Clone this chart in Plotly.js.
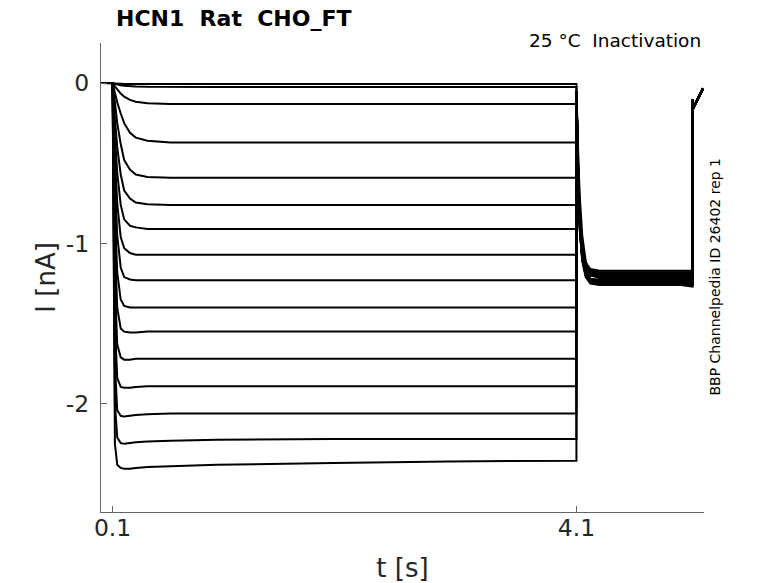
<!DOCTYPE html>
<html>
<head>
<meta charset="utf-8">
<script src="https://cdn.plot.ly/plotly-3.0.1.min.js"></script>
<style>html,body{margin:0;padding:0;background:#fff;}#chart{width:778px;height:583px;}</style>
</head>
<body>
<div id="chart"></div>
<script>
// Time points (s) of the conditioning step
var stepTimes = [0, 0.1, 0.12, 0.14, 0.17, 0.2, 0.25, 0.3, 0.4, 0.6, 1.0, 2.0, 3.0, 4.1];
// Currents (nA) during the step, one row per sweep
var stepCurrents = [
  [0, 0, -0.002, -0.003, -0.004, -0.005, -0.005, -0.006, -0.006, -0.006, -0.006, -0.006, -0.006, -0.006],
  [0, 0, -0.005, -0.009, -0.013, -0.016, -0.019, -0.021, -0.023, -0.025, -0.025, -0.025, -0.025, -0.025],
  [0, 0, -0.02, -0.04, -0.065, -0.085, -0.105, -0.116, -0.125, -0.13, -0.13, -0.13, -0.13, -0.13],
  [0, 0, -0.06, -0.12, -0.19, -0.25, -0.31, -0.34, -0.36, -0.37, -0.37, -0.37, -0.37, -0.37],
  [0, 0, -0.12, -0.25, -0.38, -0.48, -0.54, -0.57, -0.585, -0.59, -0.59, -0.59, -0.59, -0.59],
  [0, 0, -0.22, -0.40, -0.57, -0.67, -0.72, -0.745, -0.755, -0.76, -0.76, -0.76, -0.76, -0.76],
  [0, 0, -0.33, -0.56, -0.76, -0.85, -0.89, -0.90, -0.91, -0.91, -0.91, -0.91, -0.91, -0.91],
  [0, 0, -0.45, -0.75, -0.96, -1.03, -1.06, -1.07, -1.07, -1.07, -1.07, -1.07, -1.07, -1.07],
  [0, 0, -0.60, -0.95, -1.15, -1.21, -1.225, -1.23, -1.23, -1.23, -1.23, -1.23, -1.23, -1.23],
  [0, 0, -0.80, -1.18, -1.35, -1.39, -1.40, -1.40, -1.40, -1.40, -1.40, -1.40, -1.40, -1.40],
  [0, 0, -1.00, -1.40, -1.53, -1.55, -1.555, -1.555, -1.55, -1.55, -1.55, -1.55, -1.55, -1.55],
  [0, 0, -1.25, -1.63, -1.71, -1.725, -1.725, -1.72, -1.72, -1.72, -1.72, -1.72, -1.72, -1.72],
  [0, 0, -1.50, -1.84, -1.895, -1.90, -1.90, -1.895, -1.89, -1.89, -1.89, -1.89, -1.89, -1.89],
  [0, 0, -1.75, -2.04, -2.075, -2.08, -2.075, -2.07, -2.065, -2.06, -2.06, -2.06, -2.06, -2.06],
  [0, 0, -2.00, -2.21, -2.245, -2.25, -2.245, -2.24, -2.235, -2.23, -2.225, -2.22, -2.22, -2.22],
  [0, 0, -2.25, -2.38, -2.40, -2.405, -2.405, -2.40, -2.395, -2.39, -2.38, -2.37, -2.36, -2.355]
];
// Tail (test pulse) time points (s) and currents (nA)
var tailTimes = [4.1, 4.11, 4.12, 4.13, 4.15, 4.18, 4.22, 4.3, 4.6, 5.0, 5.102];
var tailCurrents = [
  [-0.05, -0.50, -0.73, -0.89, -1.06, -1.15, -1.19, -1.20, -1.20, -1.20, -1.20],
  [-0.05, -0.48, -0.72, -0.88, -1.06, -1.16, -1.20, -1.21, -1.22, -1.22, -1.22],
  [-0.05, -0.52, -0.76, -0.92, -1.10, -1.20, -1.24, -1.25, -1.25, -1.25, -1.26],
  [-0.05, -0.46, -0.69, -0.85, -1.03, -1.13, -1.17, -1.18, -1.18, -1.18, -1.18],
  [-0.05, -0.50, -0.74, -0.90, -1.08, -1.18, -1.22, -1.23, -1.23, -1.23, -1.23],
  [-0.05, -0.40, -0.62, -0.80, -1.00, -1.13, -1.19, -1.21, -1.21, -1.21, -1.21],
  [-0.05, -0.53, -0.77, -0.93, -1.11, -1.21, -1.25, -1.26, -1.26, -1.26, -1.27],
  [-0.05, -0.48, -0.71, -0.87, -1.04, -1.14, -1.18, -1.19, -1.19, -1.19, -1.19],
  [-0.05, -0.50, -0.75, -0.91, -1.09, -1.19, -1.23, -1.24, -1.24, -1.24, -1.25],
  [-0.05, -0.35, -0.55, -0.72, -0.95, -1.11, -1.19, -1.22, -1.22, -1.22, -1.22],
  [-0.05, -0.47, -0.69, -0.84, -1.02, -1.12, -1.16, -1.17, -1.17, -1.17, -1.17],
  [-0.05, -0.51, -0.76, -0.92, -1.10, -1.20, -1.24, -1.25, -1.25, -1.25, -1.26],
  [-0.05, -0.49, -0.72, -0.88, -1.05, -1.15, -1.20, -1.21, -1.21, -1.21, -1.21],
  [-0.05, -0.50, -0.74, -0.90, -1.08, -1.18, -1.22, -1.23, -1.23, -1.23, -1.24],
  [-0.05, -0.48, -0.71, -0.87, -1.04, -1.14, -1.18, -1.19, -1.19, -1.19, -1.19],
  [-0.05, -0.51, -0.75, -0.91, -1.09, -1.19, -1.23, -1.24, -1.24, -1.24, -1.25]
];
// Return to holding potential (s, nA)
var endTimes = [5.103, 5.107, 5.19];
var endCurrents = [
  [-0.10, -0.155, -0.035],
  [-0.11, -0.150, -0.040],
  [-0.10, -0.160, -0.030],
  [-0.11, -0.155, -0.038],
  [-0.10, -0.150, -0.035],
  [-0.12, -0.158, -0.042],
  [-0.10, -0.152, -0.033],
  [-0.11, -0.156, -0.037],
  [-0.10, -0.150, -0.035],
  [-0.11, -0.160, -0.040],
  [-0.10, -0.154, -0.036],
  [-0.12, -0.150, -0.032],
  [-0.10, -0.158, -0.039],
  [-0.11, -0.152, -0.034],
  [-0.10, -0.156, -0.037],
  [-0.11, -0.150, -0.036]
];
var xTickVals = [0.1, 4.1];
var xTickText = ['0.1', '4.1'];
var yTickVals = [0, -1, -2];
var yTickText = ['0', '-1', '-2'];

var traces = [];
for (var i = 0; i < stepCurrents.length; i++) {
  traces.push({
    type: 'scatter', mode: 'lines',
    x: stepTimes.concat(tailTimes, endTimes),
    y: stepCurrents[i].concat(tailCurrents[i], endCurrents[i]),
    line: {color: '#000000', width: 2},
    hoverinfo: 'skip', showlegend: false
  });
}

var FONT = 'DejaVu Sans, sans-serif';
var axisCommon = {
  showgrid: false, zeroline: false, showline: true, mirror: false,
  linecolor: '#666666', linewidth: 1, ticks: 'inside', ticklen: 6, tickwidth: 1,
  tickcolor: '#666666', tickfont: {family: FONT, size: 23.5, color: '#262626'}
};
var layout = {
  width: 778, height: 583,
  margin: {l: 101, r: 74, t: 43, b: 71, pad: 0},
  paper_bgcolor: '#ffffff', plot_bgcolor: '#ffffff',
  font: {family: FONT, color: '#262626'},
  showlegend: false,
  xaxis: Object.assign({}, axisCommon, {
    range: [0, 5.2], tickmode: 'array', tickvals: xTickVals, ticktext: xTickText,
    ticklabelstandoff: -5,
    title: {text: 't [s]', font: {family: FONT, size: 26, color: '#262626'}, standoff: 17}
  }),
  yaxis: Object.assign({}, axisCommon, {
    range: [-2.675, 0.25], tickmode: 'array', tickvals: yTickVals, ticktext: yTickText,
    ticklabelstandoff: 6
  }),
  annotations: [
    {xref: 'paper', yref: 'paper', x: -0.0917, y: 0.499, xanchor: 'center', yanchor: 'middle',
     text: 'I [nA]', textangle: -90, showarrow: false,
     font: {family: FONT, size: 26, color: '#262626'}},
    {xref: 'paper', yref: 'paper', x: 0.022, y: 1.053, xanchor: 'left', yanchor: 'middle',
     text: '<b>HCN1\u00a0\u00a0Rat\u00a0\u00a0CHO_FT</b>', showarrow: false,
     font: {family: FONT, size: 22, color: '#000000'}},
    {xref: 'paper', yref: 'paper', x: 0.998, y: 1.006, xanchor: 'right', yanchor: 'middle',
     text: '25 \u00b0C\u00a0\u00a0Inactivation', showarrow: false,
     font: {family: FONT, size: 18.5, color: '#000000'}},
    {xref: 'paper', yref: 'paper', x: 1.019, y: 0.503, xanchor: 'center', yanchor: 'middle',
     text: 'BBP Channelpedia ID 26402 rep 1', textangle: -90, showarrow: false,
     font: {family: FONT, size: 14, color: '#000000'}}
  ]
};
Plotly.newPlot('chart', traces, layout, {staticPlot: true, displayModeBar: false});
</script>
</body>
</html>
